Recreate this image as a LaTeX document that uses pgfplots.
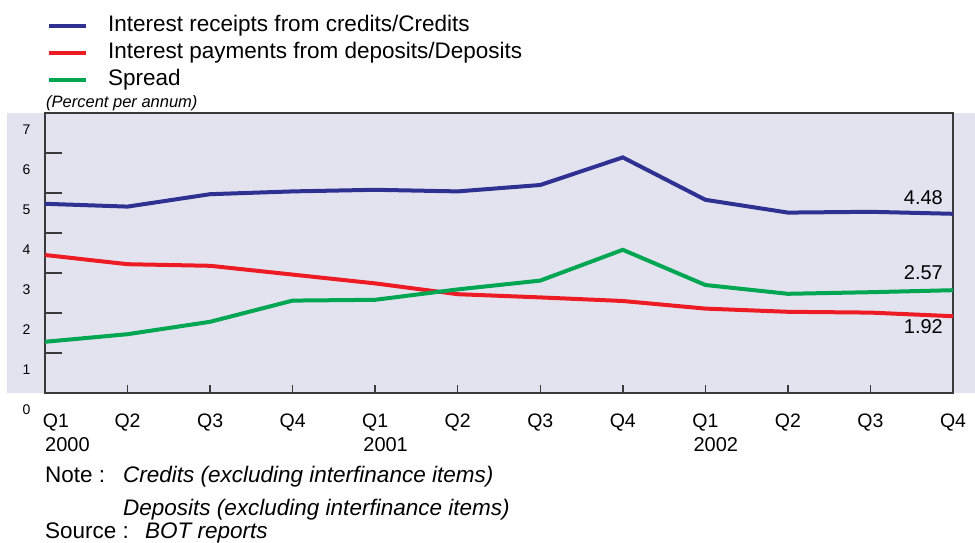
\documentclass[border=0pt]{standalone}
\usepackage{fontspec}
\setmainfont{Liberation Sans}
\usepackage{pgfplots}
\pgfplotsset{compat=1.18}
\definecolor{cblue}{HTML}{2E3192}
\definecolor{cred}{HTML}{ED1C24}
\definecolor{cgreen}{HTML}{00A651}
\definecolor{bg}{HTML}{E3E3F0}
\definecolor{frame}{HTML}{3A3A3A}
\begin{document}
\begin{tikzpicture}
\useasboundingbox (-45pt,-150pt) rectangle (930pt,393pt);
\fill[bg] (-38pt,0pt) rectangle (930pt,280pt);
\begin{axis}[
  scale only axis, width=908pt, height=280pt,
  xmin=0, xmax=11, ymin=0, ymax=7,
  axis line style={frame, line width=1.5pt},
  xtick={0,...,11},
  xticklabels={\hspace*{22pt}Q1,Q2,Q3,Q4,Q1,Q2,Q3,Q4,Q1,Q2,Q3,Q4},
  ytick={0,...,7},
  tick pos=left, tick align=inside,
  major tick length=17pt,
  xtick style={/pgfplots/major tick length=8pt},
  tick style={frame, line width=1.5pt},
  yticklabel style={font=\fontsize{14}{16}\selectfont, yshift=-17pt, xshift=-11pt},
  xticklabel style={font=\fontsize{19.5}{22}\selectfont, yshift=-17pt},
  /pgf/number format/assume math mode=true,
  legend style={draw=none, fill=none, inner sep=0pt, at={(axis description cs:0,1)}, anchor=south west, xshift=2pt, yshift=22pt, font=\fontsize{22.5}{27}\selectfont, row sep=5pt, nodes={inner sep=0pt, text height=17pt, text depth=5pt}, /tikz/every odd column/.append style={column sep=20pt}},
  legend cell align=left,
  legend image code/.code={\draw[#1, line width=4pt] (0pt,0pt) -- (37pt,0pt);},
  clip=false,
]
\addplot[cblue, line width=4pt] coordinates {(0,4.73) (1,4.66) (2,4.97) (3,5.04) (4,5.08) (5,5.04) (6,5.2) (7,5.89) (8,4.83) (9,4.51) (10,4.53) (11,4.48)};
\addlegendentry{Interest receipts from credits/Credits}
\addplot[cred, line width=4pt] coordinates {(0,3.45) (1,3.22) (2,3.18) (3,2.96) (4,2.74) (5,2.47) (6,2.39) (7,2.30) (8,2.11) (9,2.03) (10,2.01) (11,1.92)};
\addlegendentry{Interest payments from deposits/Deposits}
\addplot[cgreen, line width=4pt] coordinates {(0,1.28) (1,1.47) (2,1.78) (3,2.31) (4,2.33) (5,2.59) (6,2.81) (7,3.58) (8,2.70) (9,2.48) (10,2.52) (11,2.57)};
\addlegendentry{Spread}
\node[anchor=east, inner sep=0pt, font=\fontsize{20}{24}\selectfont, xshift=-10pt] at (axis cs:11,4.875) {4.48};
\node[anchor=east, inner sep=0pt, font=\fontsize{20}{24}\selectfont, xshift=-10pt] at (axis cs:11,3.0) {2.57};
\node[anchor=east, inner sep=0pt, font=\fontsize{20}{24}\selectfont, xshift=-10pt] at (axis cs:11,1.65) {1.92};
\node[anchor=base west, inner sep=0pt, font=\fontsize{16.5}{20}\selectfont\itshape, xshift=1pt, yshift=6pt] at (axis description cs:0,1) {(Percent per annum)};
\node[anchor=west, inner sep=0pt, font=\fontsize{20}{24}\selectfont, yshift=-52pt] at (axis cs:0,0) {2000};
\node[anchor=west, inner sep=0pt, font=\fontsize{20}{24}\selectfont, yshift=-52pt, xshift=-12pt] at (axis cs:4,0) {2001};
\node[anchor=west, inner sep=0pt, font=\fontsize{20}{24}\selectfont, yshift=-52pt, xshift=-12pt] at (axis cs:8,0) {2002};
\node[anchor=base west, inner sep=0pt, font=\fontsize{22.5}{27}\selectfont, yshift=-89pt] at (axis cs:0,0) {Note :};
\node[anchor=base west, inner sep=0pt, font=\fontsize{22.5}{27}\selectfont\itshape, yshift=-89pt, xshift=78pt] at (axis cs:0,0) {Credits (excluding interfinance items)};
\node[anchor=base west, inner sep=0pt, font=\fontsize{22.5}{27}\selectfont\itshape, yshift=-122pt, xshift=78pt] at (axis cs:0,0) {Deposits (excluding interfinance items)};
\node[anchor=base west, inner sep=0pt, font=\fontsize{22.5}{27}\selectfont, yshift=-145pt] at (axis cs:0,0) {Source :};
\node[anchor=base west, inner sep=0pt, font=\fontsize{22.5}{27}\selectfont\itshape, yshift=-145pt, xshift=100pt] at (axis cs:0,0) {BOT reports};
\end{axis}
\end{tikzpicture}
\end{document}
